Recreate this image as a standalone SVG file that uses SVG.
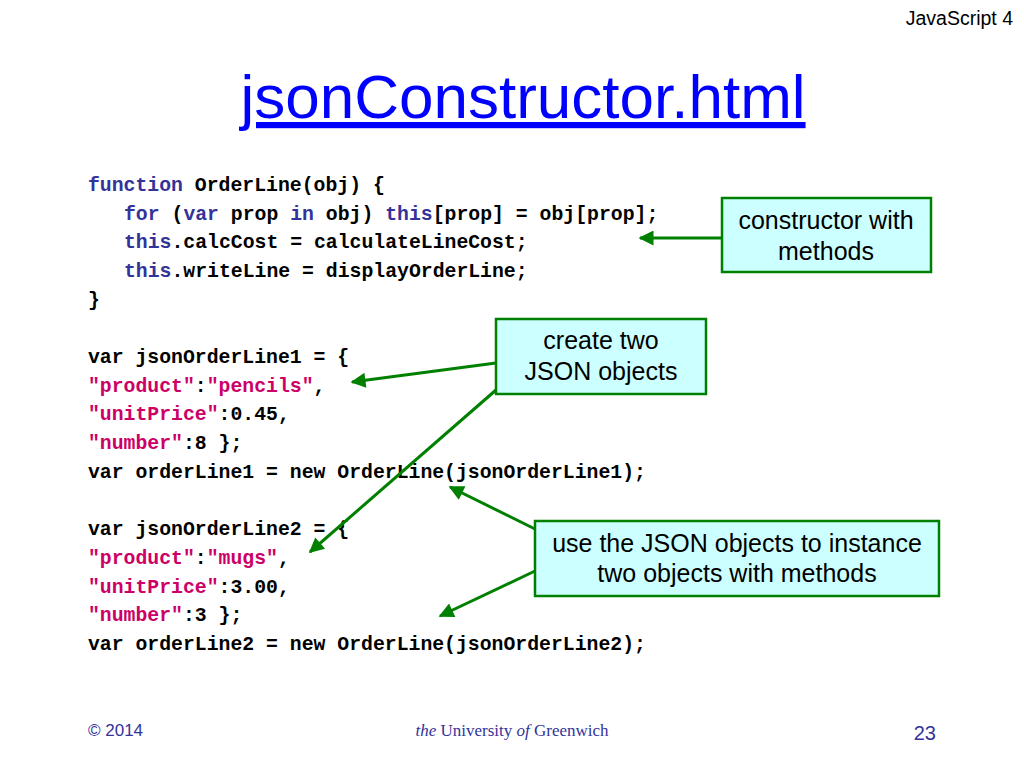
<svg xmlns="http://www.w3.org/2000/svg" width="1024" height="768" viewBox="0 0 1024 768">
<defs>
<style>
.code{font-family:"Liberation Mono","Courier New",monospace;font-weight:bold;font-size:19.8px;fill:#000}
.kw{fill:#333399}
.str{fill:#CC0066}
.box{fill:#CCFFFF;stroke:#008000;stroke-width:2.5}
.lbl{font-family:"Liberation Sans",Arial,sans-serif;font-size:25px;fill:#000;text-anchor:middle}
.conn{stroke:#008000;stroke-width:3;fill:none;marker-end:url(#ah)}
.foot{font-family:"Liberation Sans",Arial,sans-serif;font-size:17px;fill:#333399}
</style>
<marker id="ah" viewBox="0 0 10 10" refX="9" refY="5" markerWidth="18" markerHeight="15" markerUnits="userSpaceOnUse" orient="auto">
<path d="M0,0 L10,5 L0,10 z" fill="#008000"/>
</marker>
</defs>
<rect width="1024" height="768" fill="#fff"/>
<text x="1013" y="25" text-anchor="end" font-family="Liberation Sans,Arial,sans-serif" font-size="19.5" fill="#000">JavaScript 4</text>
<text x="523" y="118" text-anchor="middle" font-family="Liberation Sans,Arial,sans-serif" font-size="62" fill="#0000FF" text-decoration="underline">jsonConstructor.html</text>

<g id="code">
<text class="code" x="88" y="191"><tspan class="kw">function</tspan> OrderLine(obj) {</text>
<text class="code" x="124" y="220"><tspan class="kw">for</tspan> (<tspan class="kw">var</tspan> prop <tspan class="kw">in</tspan> obj) <tspan class="kw">this</tspan>[prop] = obj[prop];</text>
<text class="code" x="124" y="248"><tspan class="kw">this</tspan>.calcCost = calculateLineCost;</text>
<text class="code" x="124" y="277"><tspan class="kw">this</tspan>.writeLine = displayOrderLine;</text>
<text class="code" x="88" y="306">}</text>
<text class="code" x="88" y="363">var jsonOrderLine1 = {</text>
<text class="code" x="88" y="392"><tspan class="str">"product"</tspan>:<tspan class="str">"pencils"</tspan>,</text>
<text class="code" x="88" y="420"><tspan class="str">"unitPrice"</tspan>:0.45,</text>
<text class="code" x="88" y="449"><tspan class="str">"number"</tspan>:8 };</text>
<text class="code" x="88" y="478">var orderLine1 = new OrderLine(jsonOrderLine1);</text>
<text class="code" x="88" y="535">var jsonOrderLine2 = {</text>
<text class="code" x="88" y="564"><tspan class="str">"product"</tspan>:<tspan class="str">"mugs"</tspan>,</text>
<text class="code" x="88" y="593"><tspan class="str">"unitPrice"</tspan>:3.00,</text>
<text class="code" x="88" y="621"><tspan class="str">"number"</tspan>:3 };</text>
<text class="code" x="88" y="650">var orderLine2 = new OrderLine(jsonOrderLine2);</text>
</g>

<g id="connectors">
<line class="conn" x1="722" y1="238" x2="640" y2="238"/>
<line class="conn" x1="496" y1="363" x2="352" y2="382"/>
<line class="conn" x1="496" y1="390" x2="310" y2="552"/>
<line class="conn" x1="535" y1="529" x2="450" y2="487"/>
<line class="conn" x1="535" y1="571" x2="440" y2="616"/>
</g>

<g id="node-constructor">
<rect class="box" x="722" y="198" width="209" height="74"/>
<text class="lbl" x="826" y="229">constructor with</text>
<text class="lbl" x="826" y="260">methods</text>
</g>
<g id="node-create">
<rect class="box" x="496" y="319" width="210" height="75"/>
<text class="lbl" x="601" y="349">create two</text>
<text class="lbl" x="601" y="380">JSON objects</text>
</g>
<g id="node-use">
<rect class="box" x="535" y="521" width="404" height="75"/>
<text class="lbl" x="737" y="552">use the JSON objects to instance</text>
<text class="lbl" x="737" y="582">two objects with methods</text>
</g>

<text class="foot" x="88" y="736">© 2014</text>
<text x="512" y="736" text-anchor="middle" font-family="Liberation Serif,Times New Roman,serif" font-size="17" fill="#333399"><tspan font-style="italic">the</tspan> University <tspan font-style="italic">of</tspan> Greenwich</text>
<text x="936" y="740" text-anchor="end" font-family="Liberation Sans,Arial,sans-serif" font-size="20" fill="#333399">23</text>
</svg>
